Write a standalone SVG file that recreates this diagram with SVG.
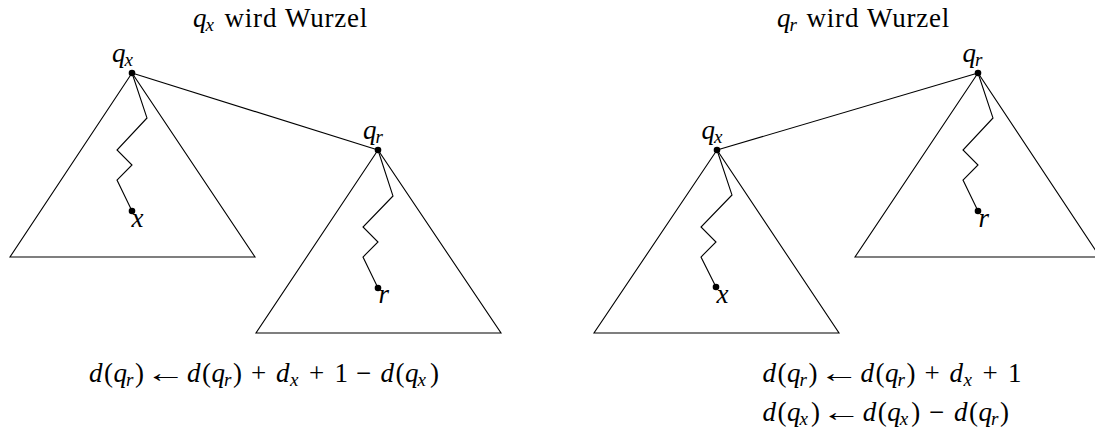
<svg xmlns="http://www.w3.org/2000/svg" width="1095" height="436" viewBox="0 0 1095 436" font-family="'Liberation Serif', 'DejaVu Serif', serif">
<style>
.ln{fill:none;stroke:#000;stroke-width:1.1;stroke-linejoin:miter}
.dot{fill:#000}
.t{font-family:'Liberation Serif','DejaVu Serif',serif;font-size:27px;fill:#000}
.i{font-style:italic}
.s{font-size:19px;font-style:italic}
.w{letter-spacing:0.8px}
.a{text-anchor:middle}
</style>
<rect width="1095" height="436" fill="#fff"/>
<g id="title-left"><text class="t" y="27"><tspan x="193" class="i">q</tspan><tspan x="205.5" y="31" class="s">x</tspan><tspan x="224.5" y="27" class="w">wird</tspan><tspan x="285" class="w">Wurzel</tspan></text></g>
<g id="title-right"><text class="t" y="27"><tspan x="777" class="i">q</tspan><tspan x="789.5" y="31" class="s">r</tspan><tspan x="806.5" y="27" class="w">wird</tspan><tspan x="867" class="w">Wurzel</tspan></text></g>
<g id="connectors">
<path class="ln" d="M132,73 L378,150"/>
<path class="ln" d="M717,150 L978,73"/>
<path class="ln" d="M132,73 L147,118 L117,150 L132,165 L117,180 L132,211"/>
<path class="ln" d="M378,150 L393,196 L363,227 L378,242 L363,257 L378,288"/>
<path class="ln" d="M717,150 L732,195 L701,227 L716,242 L701,257 L716,287"/>
<path class="ln" d="M978,73 L993,118 L963,150 L978,165 L963,180 L978,211"/>
</g>
<g id="tree-qx-left"><path class="ln" d="M132,73 L10,257 L255,257 Z"/></g>
<g id="tree-qr-left"><path class="ln" d="M378,150 L256,333 L501,333 Z"/></g>
<g id="tree-qx-right"><path class="ln" d="M717,150 L594,333 L839,333 Z"/></g>
<g id="tree-qr-right"><path class="ln" d="M978,73 L855,257 L1100,257 Z"/></g>
<g id="node-qx-left"><circle class="dot" cx="132" cy="73" r="3.3"/><text class="t" y="62"><tspan x="112" class="i">q</tspan><tspan x="124.5" y="66" class="s">x</tspan></text></g>
<g id="node-x-left"><circle class="dot" cx="132" cy="211" r="3.3"/><text class="t i" x="131.5" y="227">x</text></g>
<g id="node-qr-left"><circle class="dot" cx="378" cy="150" r="3.3"/><text class="t" y="139"><tspan x="363" class="i">q</tspan><tspan x="375.5" y="143" class="s">r</tspan></text></g>
<g id="node-r-left"><circle class="dot" cx="378" cy="288" r="3.3"/><text class="t i" x="378.5" y="303">r</text></g>
<g id="node-qx-right"><circle class="dot" cx="717" cy="150" r="3.3"/><text class="t" y="139"><tspan x="701.5" class="i">q</tspan><tspan x="714" y="143" class="s">x</tspan></text></g>
<g id="node-x-right"><circle class="dot" cx="716" cy="287" r="3.3"/><text class="t i" x="716.5" y="303">x</text></g>
<g id="node-qr-right"><circle class="dot" cx="978" cy="73" r="3.3"/><text class="t" y="62"><tspan x="962.5" class="i">q</tspan><tspan x="975" y="66" class="s">r</tspan></text></g>
<g id="node-r-right"><circle class="dot" cx="978" cy="211" r="3.3"/><text class="t i" x="978.5" y="227">r</text></g>
<g id="eq-left">
<text class="t" y="382"><tspan x="89" class="i">d</tspan><tspan x="104">(</tspan><tspan x="113.5" class="i">q</tspan><tspan x="126" y="386" class="s">r</tspan><tspan x="135" y="382">)</tspan><tspan x="187" class="i">d</tspan><tspan x="202">(</tspan><tspan x="211.5" class="i">q</tspan><tspan x="224" y="386" class="s">r</tspan><tspan x="233" y="382">)</tspan><tspan x="251">+</tspan><tspan x="276" class="i">d</tspan><tspan x="290" y="386" class="s">x</tspan><tspan x="309" y="382">+</tspan><tspan x="334.5">1</tspan><tspan x="356">−</tspan><tspan x="380.5" class="i">d</tspan><tspan x="395.5">(</tspan><tspan x="405" class="i">q</tspan><tspan x="417.5" y="386" class="s">x</tspan><tspan x="430" y="382">)</tspan></text>
<text class="t a" transform="translate(166,382) scale(1.5,1)">←</text>
</g>
<g id="eq-right-1">
<text class="t" y="382"><tspan x="762.5" class="i">d</tspan><tspan x="777.5">(</tspan><tspan x="787" class="i">q</tspan><tspan x="799.5" y="386" class="s">r</tspan><tspan x="808.5" y="382">)</tspan><tspan x="860.5" class="i">d</tspan><tspan x="875.5">(</tspan><tspan x="885" class="i">q</tspan><tspan x="897.5" y="386" class="s">r</tspan><tspan x="906.5" y="382">)</tspan><tspan x="924.5">+</tspan><tspan x="949.5" class="i">d</tspan><tspan x="963.5" y="386" class="s">x</tspan><tspan x="982.5" y="382">+</tspan><tspan x="1008">1</tspan></text>
<text class="t a" transform="translate(839.5,382) scale(1.5,1)">←</text>
</g>
<g id="eq-right-2">
<text class="t" y="421"><tspan x="762.5" class="i">d</tspan><tspan x="777.5">(</tspan><tspan x="787" class="i">q</tspan><tspan x="799.5" y="425" class="s">x</tspan><tspan x="811" y="421">)</tspan><tspan x="862.8" class="i">d</tspan><tspan x="877.8">(</tspan><tspan x="887.3" class="i">q</tspan><tspan x="899.8" y="425" class="s">x</tspan><tspan x="911.3" y="421">)</tspan><tspan x="929">−</tspan><tspan x="954" class="i">d</tspan><tspan x="969">(</tspan><tspan x="978.5" class="i">q</tspan><tspan x="991" y="425" class="s">r</tspan><tspan x="1000" y="421">)</tspan></text>
<text class="t a" transform="translate(841.8,421) scale(1.5,1)">←</text>
</g>
</svg>
